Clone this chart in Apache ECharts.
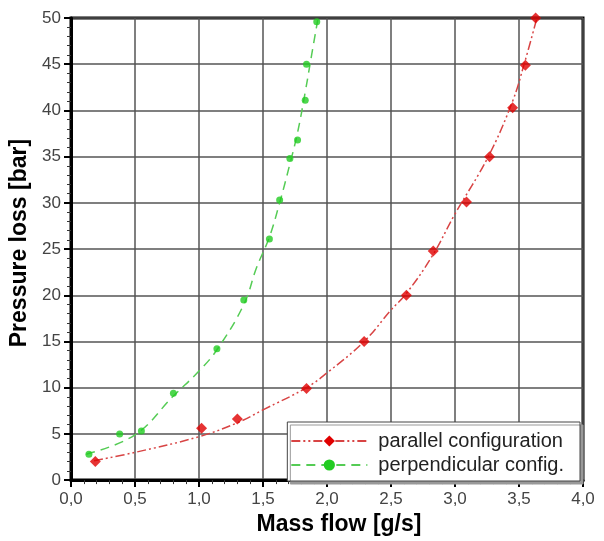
<!DOCTYPE html>
<html>
<head>
<meta charset="utf-8">
<script src="https://cdn.jsdelivr.net/npm/echarts@6/dist/echarts.min.js"></script>
<style>
  html, body { margin: 0; padding: 0; background: #fff; }
  #chart { width: 604px; height: 541px; }
</style>
</head>
<body>
<div id="chart"></div>
<script>
// measured points [mass flow g/s, pressure loss bar]
const parallelPoints = [
  [0.19, 2.0], [1.02, 5.6], [1.30, 6.6], [1.84, 9.9], [2.29, 15.0], [2.62, 20.0],
  [2.83, 24.8], [3.09, 30.1], [3.27, 35.0], [3.45, 40.3], [3.55, 44.9], [3.63, 50.0]
]
const perpendicularPoints = [
  [0.14, 2.8], [0.38, 5.0], [0.55, 5.3], [0.80, 9.4], [1.14, 14.2], [1.35, 19.5],
  [1.55, 26.1], [1.63, 30.3], [1.71, 34.8], [1.77, 36.8], [1.83, 41.1], [1.84, 45.0], [1.92, 49.6]
]
// fitted curves
const parallelFit = [
  [0.18, 2.1], [0.5, 3.0], [1.0, 4.7], [1.3, 6.2], [1.5, 7.6], [1.84, 10.0], [2.0, 11.6],
  [2.29, 15.0], [2.5, 18.4], [2.62, 20.2], [2.82, 24.2], [3.0, 28.8], [3.26, 35.0],
  [3.45, 41.0], [3.54, 45.0], [3.64, 50.0]
]
const perpendicularFit = [
  [0.12, 2.8], [0.5, 4.9], [0.8, 9.1], [1.0, 11.8], [1.14, 14.1], [1.35, 19.0],
  [1.45, 23.0], [1.55, 26.3], [1.63, 30.0], [1.71, 34.2], [1.77, 37.6], [1.83, 42.0],
  [1.88, 46.0], [1.93, 50.0]
]
const parallelName = 'parallel configuration'
const perpendicularName = 'perpendicular config.'

const chart = echarts.init(document.getElementById('chart'))

const fmt = v => v.toFixed(1).replace('.', ',')

chart.setOption({
  animation: false,
  grid: {
    left: 71, right: 21, top: 18, bottom: 56,
    show: true, borderColor: '#000', borderWidth: 3
  },
  legend: {
    orient: 'vertical',
    right: 24, bottom: 60,
    itemWidth: 76, itemHeight: 14, itemGap: 4,
    padding: [9, 16, 6, 3],
    backgroundColor: '#fff',
    borderColor: '#444', borderWidth: 1,
    borderRadius: 0,
    shadowColor: '#999', shadowOffsetX: 3, shadowOffsetY: 3, shadowBlur: 0,
    textStyle: { fontFamily: 'Liberation Sans', fontSize: 20, color: '#222', padding: [0, 0, 0, 6] },
    data: [parallelName, perpendicularName]
  },
  xAxis: {
    type: 'value', min: 0, max: 4, interval: 0.5,
    name: 'Mass flow [g/s]', nameLocation: 'middle', nameGap: 31,
    nameTextStyle: {
      fontFamily: 'Liberation Sans', fontSize: 23, fontWeight: 'bold', color: '#000',
      padding: [0, 0, 0, 24]
    },
    axisLine: { show: true, lineStyle: { color: '#000', width: 3 } },
    axisTick: { show: true, length: 7, lineStyle: { color: '#000', width: 2 } },
    minorTick: { show: true, splitNumber: 5, length: 4, lineStyle: { color: '#333', width: 1 } },
    splitLine: { show: true, lineStyle: { color: '#555', width: 1.5 } },
    axisLabel: { formatter: fmt, fontFamily: 'Liberation Sans', fontSize: 17, color: '#444', margin: 11 }
  },
  yAxis: {
    type: 'value', min: 0, max: 50, interval: 5,
    name: 'Pressure loss [bar]', nameLocation: 'middle', nameGap: 38,
    nameTextStyle: {
      fontFamily: 'Liberation Sans', fontSize: 23, fontWeight: 'bold', color: '#000',
      padding: [0, 0, 0, 12]
    },
    axisLine: { show: true, lineStyle: { color: '#000', width: 3 } },
    axisTick: { show: true, length: 7, lineStyle: { color: '#000', width: 2 } },
    minorTick: { show: true, splitNumber: 5, length: 4, lineStyle: { color: '#333', width: 1 } },
    splitLine: { show: true, lineStyle: { color: '#555', width: 1.5 } },
    axisLabel: { fontFamily: 'Liberation Sans', fontSize: 17, color: '#444', margin: 10 }
  },
  series: [
    {
      name: parallelName, type: 'line', data: parallelFit, smooth: 0.4,
      symbol: 'diamond', symbolSize: 11, showSymbol: false,
      itemStyle: { color: '#e00000' },
      lineStyle: { color: '#d84444', width: 1.5, type: [9, 3, 2, 3, 2, 3] },
      z: 3
    },
    {
      name: perpendicularName, type: 'line', data: perpendicularFit, smooth: 0.4,
      symbol: 'circle', symbolSize: 7, showSymbol: false,
      itemStyle: { color: '#22cc22' },
      lineStyle: { color: '#55cc55', width: 1.5, type: [9, 6] },
      z: 3
    },
    {
      name: parallelName, type: 'scatter', data: parallelPoints,
      symbol: 'diamond', symbolSize: 11,
      itemStyle: { color: '#e00000' }, z: 4
    },
    {
      name: perpendicularName, type: 'scatter', data: perpendicularPoints,
      symbol: 'circle', symbolSize: 7,
      itemStyle: { color: '#22cc22' }, z: 4
    }
  ]
})
</script>
</body>
</html>
